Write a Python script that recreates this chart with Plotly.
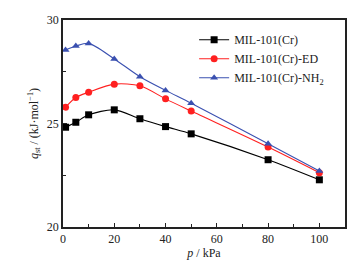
import plotly.graph_objects as go

p = [1, 5, 10, 20, 30, 40, 50, 80, 100]
q_cr = [24.82, 25.06, 25.42, 25.66, 25.23, 24.85, 24.5, 23.25, 22.28]
q_ed = [25.79, 26.26, 26.51, 26.9, 26.82, 26.19, 25.6, 23.86, 22.62]
q_nh2 = [28.55, 28.74, 28.87, 28.12, 27.26, 26.6, 25.98, 24.02, 22.7]

names = ["MIL-101(Cr)", "MIL-101(Cr)-ED", "MIL-101(Cr)-NH<sub>2</sub>"]
colors = ["#000000", "#ff2020", "#3a50b0"]
symbols = ["square", "circle", "triangle-up"]

fig = go.Figure()
for name, ys, c, s in zip(names, [q_cr, q_ed, q_nh2], colors, symbols):
    fig.add_trace(go.Scatter(
        x=p, y=ys, name=name, mode="lines+markers",
        line=dict(color=c, width=1.1, shape="spline", smoothing=0.8),
        marker=dict(symbol=s, size=7, color=c),
    ))

font = dict(family="Liberation Serif, Times New Roman, serif", size=12, color="#222")
fig.update_layout(
    width=360, height=261,
    margin=dict(l=63, r=15, t=20, b=34),
    paper_bgcolor="white", plot_bgcolor="white",
    font=font,
    showlegend=True,
    legend=dict(x=0.465, y=0.975, xanchor="left", yanchor="top",
                bgcolor="rgba(0,0,0,0)", font=dict(size=12, family=font["family"]),
                itemwidth=30, tracegroupgap=0),
    xaxis=dict(range=[0, 110], tickvals=[0, 20, 40, 60, 80, 100], automargin=False,
               ticks="inside", ticklen=4, tickwidth=1, tickcolor="#222",
               minor=dict(tickvals=[10, 30, 50, 70, 90], ticks="inside", ticklen=3, tickcolor="#222"),
               showline=True, linecolor="#222", linewidth=1.5, mirror=True,
               showgrid=False, zeroline=False,
               title=dict(text="<i>p</i> / kPa", standoff=2, font=dict(size=12))),
    yaxis=dict(range=[20, 30], tickvals=[20, 25, 30], automargin=False,
               ticks="inside", ticklen=4, tickwidth=1, tickcolor="#222",
               minor=dict(tickvals=[22.5, 27.5], ticks="inside", ticklen=3, tickcolor="#222"),
               showline=True, linecolor="#222", linewidth=1.5, mirror=True,
               showgrid=False, zeroline=False,
               title=dict(text="<i>q</i><sub>st</sub> / (kJ·mol<sup>−1</sup>)", standoff=6, font=dict(size=12))),
)

fig.write_html("out.html", config={"displayModeBar": False},
               post_script="document.body.style.margin='0';document.body.style.overflow='hidden';")
